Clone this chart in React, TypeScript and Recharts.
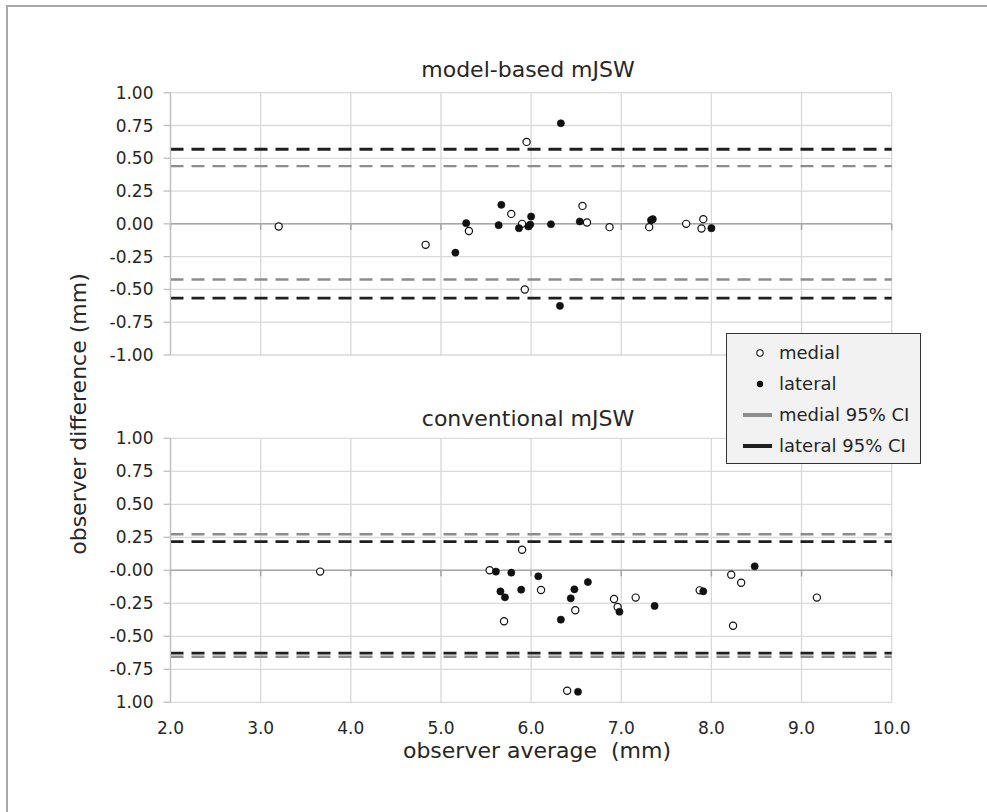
import React from 'react';
import {
  ScatterChart,
  Scatter,
  XAxis,
  YAxis,
  CartesianGrid,
  ReferenceLine,
  Legend,
} from 'recharts';

// ---------- data ----------
const xTicks = [2, 3, 4, 5, 6, 7, 8, 9, 10];
const xTickLabels = ['2.0', '3.0', '4.0', '5.0', '6.0', '7.0', '8.0', '9.0', '10.0'];
const yTicks = [-1, -0.75, -0.5, -0.25, 0, 0.25, 0.5, 0.75, 1];
const topYLabels = ['-1.00', '-0.75', '-0.50', '-0.25', '0.00', '0.25', '0.50', '0.75', '1.00'];
const bottomYLabels = ['1.00', '-0.75', '-0.50', '-0.25', '-0.00', '0.25', '0.50', '0.75', '1.00'];

const panelTitles = ['model-based mJSW', 'conventional mJSW'];

// model-based mJSW: [observer average, observer difference]
const modelMedial: [number, number][] = [
  [3.2, -0.02], [4.83, -0.16], [5.31, -0.055], [5.78, 0.076], [5.9, 0.0],
  [5.95, 0.625], [5.93, -0.5], [6.57, 0.137], [6.62, 0.01], [6.87, -0.025],
  [7.31, -0.025], [7.72, 0.0], [7.91, 0.036], [7.89, -0.035],
];
const modelLateral: [number, number][] = [
  [5.16, -0.22], [5.28, 0.005], [5.64, -0.01], [5.67, 0.145], [5.865, -0.033],
  [5.97, -0.02], [5.99, -0.005], [6.0, 0.056], [6.22, -0.003], [6.33, 0.767],
  [6.32, -0.625], [6.54, 0.018], [7.33, 0.028], [7.35, 0.036], [8.0, -0.033],
];
// conventional mJSW
const convMedial: [number, number][] = [
  [3.66, -0.01], [5.54, 0.0], [5.7, -0.386], [5.9, 0.156], [6.11, -0.149],
  [6.49, -0.303], [6.4, -0.912], [6.92, -0.217], [6.96, -0.278], [7.16, -0.207],
  [7.87, -0.152], [8.22, -0.033], [8.33, -0.094], [8.24, -0.42], [9.17, -0.207],
];
const convLateral: [number, number][] = [
  [5.61, -0.01], [5.78, -0.018], [5.66, -0.16], [5.71, -0.205], [5.89, -0.147],
  [6.08, -0.045], [6.33, -0.374], [6.44, -0.212], [6.48, -0.144], [6.63, -0.089],
  [6.52, -0.92], [6.98, -0.314], [7.37, -0.27], [7.91, -0.159], [8.48, 0.03],
];

// 95% limits of agreement [upper, lower]
const modelMedialCI = [0.44, -0.424];
const modelLateralCI = [0.569, -0.566];
const convMedialCI = [0.273, -0.655];
const convLateralCI = [0.217, -0.627];

const legendItems = [
  { label: 'medial', kind: 'open' },
  { label: 'lateral', kind: 'filled' },
  { label: 'medial 95% CI', kind: 'grayLine' },
  { label: 'lateral 95% CI', kind: 'blackLine' },
];

// ---------- styles ----------
const FONT = '"DejaVu Sans", Verdana, sans-serif';
const GRID = '#d9d9d9';
const AXIS = '#bfbfbf';
const ZERO = '#a6a6a6';
const BLACK_CI = '#1f1f1f';
const GRAY_CI = '#8c8c8c';
const TEXT = '#262626';

const toPts = (arr: [number, number][]) => arr.map(([x, y]) => ({ x, y }));

const OpenDot = (props: any) => (
  <circle cx={props.cx} cy={props.cy} r={3.6} fill="#ffffff" stroke="#111" strokeWidth={1.2} />
);
const FilledDot = (props: any) => (
  <circle cx={props.cx} cy={props.cy} r={3.6} fill="#111" stroke="#111" strokeWidth={0.6} />
);

const renderLegend = () => (
  <div
    style={{
      position: 'relative',
      width: 195,
      height: 131,
      boxSizing: 'border-box',
      border: '1.5px solid #333',
      background: '#f2f2f2',
      fontFamily: FONT,
      fontSize: 18,
      color: TEXT,
    }}
  >
    {legendItems.map((it, i) => (
      <div
        key={it.label}
        style={{
          position: 'absolute',
          left: 0,
          top: 3 + i * 31,
          height: 31,
          width: '100%',
          display: 'flex',
          alignItems: 'center',
        }}
      >
        <svg width={52} height={20} style={{ flex: 'none' }}>
          {it.kind === 'open' && <circle cx={33} cy={10} r={3.2} fill="#fff" stroke="#111" strokeWidth={1.1} />}
          {it.kind === 'filled' && <circle cx={33} cy={10} r={3.2} fill="#111" />}
          {it.kind === 'grayLine' && <line x1={16} x2={45} y1={10} y2={10} stroke={GRAY_CI} strokeWidth={4} />}
          {it.kind === 'blackLine' && <line x1={16} x2={45} y1={10} y2={10} stroke={BLACK_CI} strokeWidth={4} />}
        </svg>
        <span style={{ whiteSpace: 'nowrap' }}>{it.label}</span>
      </div>
    ))}
  </div>
);

type PanelProps = {
  height: number;
  margin: { top: number; right: number; bottom: number; left: number };
  medial: [number, number][];
  lateral: [number, number][];
  medialCI: number[];
  lateralCI: number[];
  yLabels: string[];
  showX: boolean;
  legend?: boolean;
};

const tickDrop = 0.046;

const Panel = ({ height, margin, medial, lateral, medialCI, lateralCI, yLabels, showX, legend }: PanelProps) => (
  <ScatterChart width={987} height={height} margin={margin} style={{ overflow: 'visible' }}>
    <CartesianGrid stroke={GRID} strokeWidth={1.3} />
    <XAxis
      type="number"
      dataKey="x"
      domain={[2, 10]}
      ticks={xTicks}
      interval={0}
      hide={!showX}
      height={showX ? 40 : 0}
      axisLine={false}
      tickLine={false}
      tickMargin={14}
      tick={{ fontSize: 17, fill: TEXT }}
      tickFormatter={(v: number) => xTickLabels[xTicks.indexOf(v)] ?? String(v)}
    />
    <YAxis
      type="number"
      dataKey="y"
      domain={[-1, 1]}
      ticks={yTicks}
      interval={0}
      width={60}
      allowDataOverflow
      axisLine={{ stroke: AXIS, strokeWidth: 1.3 }}
      tickLine={{ stroke: AXIS, strokeWidth: 1.3 }}
      tickSize={7}
      tickMargin={10}
      tick={{ fontSize: 17, fill: TEXT }}
      tickFormatter={(v: number) => yLabels[yTicks.indexOf(v)] ?? String(v)}
    />
    <ReferenceLine y={0} stroke={ZERO} strokeWidth={1.5} />
    {xTicks.map((t) => (
      <ReferenceLine
        key={'zt' + t}
        segment={[{ x: t, y: 0 }, { x: t, y: -tickDrop }]}
        stroke={ZERO}
        strokeWidth={1.5}
      />
    ))}
    {lateralCI.map((v, i) => (
      <ReferenceLine key={'l' + i} y={v} stroke={BLACK_CI} strokeWidth={2.8} strokeDasharray="13 8" />
    ))}
    {medialCI.map((v, i) => (
      <ReferenceLine key={'m' + i} y={v} stroke={GRAY_CI} strokeWidth={2.4} strokeDasharray="13 8" />
    ))}
    <Scatter name="medial" data={toPts(medial)} shape={OpenDot} isAnimationActive={false} />
    <Scatter name="lateral" data={toPts(lateral)} shape={FilledDot} isAnimationActive={false} />
    {legend && (
      <Legend
        layout="vertical"
        align="center"
        verticalAlign="middle"
        content={renderLegend}
        wrapperStyle={{ left: 726, top: -27, width: 195, height: 131 }}
      />
    )}
  </ScatterChart>
);

export default function App() {
  return (
    <div
      style={{
        position: 'absolute',
        left: 0,
        top: 0,
        width: 987,
        height: 812,
        background: '#ffffff',
        fontFamily: FONT,
        color: TEXT,
        overflow: 'hidden',
      }}
    >
      {/* outer frame (top and left edges) */}
      <div
        style={{
          position: 'absolute',
          left: 6,
          top: 5,
          width: 990,
          height: 820,
          borderTop: '2px solid #a8a8a8',
          borderLeft: '2px solid #a8a8a8',
        }}
      />
      <div style={{ position: 'absolute', left: 0, top: 0 }}>
        <Panel
          height={378}
          margin={{ top: 92.7, right: 95.3, bottom: 23, left: 110.5 }}
          medial={modelMedial}
          lateral={modelLateral}
          medialCI={modelMedialCI}
          lateralCI={modelLateralCI}
          yLabels={topYLabels}
          showX={false}
        />
      </div>
      <div style={{ position: 'absolute', left: 0, top: 360 }}>
        <Panel
          height={452}
          margin={{ top: 78.3, right: 95.3, bottom: 69.7, left: 110.5 }}
          medial={convMedial}
          lateral={convLateral}
          medialCI={convMedialCI}
          lateralCI={convLateralCI}
          yLabels={bottomYLabels}
          showX={true}
          legend
        />
      </div>
      {/* panel titles */}
      <div style={{ position: 'absolute', left: 528, top: 58.7, transform: 'translateX(-50%)', fontSize: 22, lineHeight: '22px', whiteSpace: 'nowrap' }}>
        {panelTitles[0]}
      </div>
      <div style={{ position: 'absolute', left: 528, top: 408, transform: 'translateX(-50%)', fontSize: 22, lineHeight: '22px', whiteSpace: 'nowrap' }}>
        {panelTitles[1]}
      </div>
      {/* axis titles */}
      <div style={{ position: 'absolute', left: 537, top: 740.4, transform: 'translateX(-50%)', fontSize: 22, lineHeight: '22px', whiteSpace: 'pre' }}>
        {'observer average  (mm)'}
      </div>
      <div
        style={{
          position: 'absolute',
          left: 79.4,
          top: 414,
          transform: 'translate(-50%, -50%) rotate(-90deg)',
          fontSize: 22,
          lineHeight: '22px',
          whiteSpace: 'nowrap',
        }}
      >
        observer difference (mm)
      </div>
    </div>
  );
}
